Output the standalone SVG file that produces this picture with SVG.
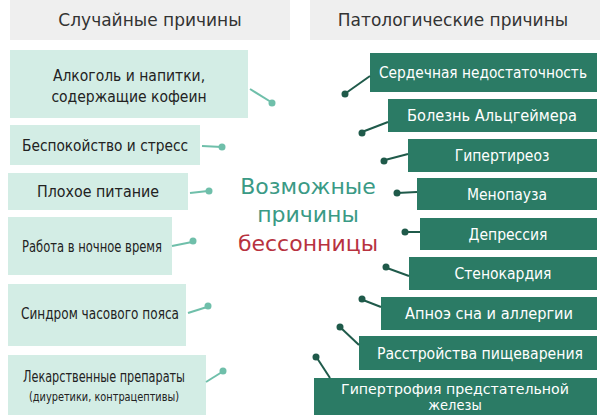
<svg xmlns="http://www.w3.org/2000/svg" width="600" height="415" viewBox="0 0 600 415">
<style>
.hd{fill:#efefef}
.hdt{font-family:"DejaVu Sans",sans-serif;font-size:17px;fill:#333;text-anchor:middle}
.lb{fill:#d3ede5}
.rb{fill:#2b7b65}
.lt{font-family:"DejaVu Sans Condensed","DejaVu Sans",sans-serif;font-stretch:condensed;font-size:15.5px;fill:#222;text-anchor:middle}
.rt{font-family:"DejaVu Sans Condensed","DejaVu Sans",sans-serif;font-stretch:condensed;font-size:15.5px;fill:#fff;text-anchor:middle}
.lc{stroke:#6fbfaa;stroke-width:2;fill:none}
.ld{fill:#6fbfaa}
.rc{stroke:#1f5a4a;stroke-width:2;fill:none}
.rd{fill:#1f5a4a}
.ct{font-family:"DejaVu Sans",sans-serif;font-size:22px;text-anchor:middle}
</style>
<rect width="600" height="415" fill="#fff"/>
<g id="hdr-left"><rect class="hd" x="10" y="0" width="280" height="40"/><text class="hdt" x="150" y="26">Случайные причины</text></g>
<g id="hdr-right"><rect class="hd" x="310" y="0" width="290" height="40"/><text class="hdt" x="453" y="26">Патологические причины</text></g>
<g id="center"><text class="ct" x="308" y="194" fill="#3a9a85">Возможные</text><text class="ct" x="308" y="222" fill="#3a9a85">причины</text><text class="ct" x="308" y="251" fill="#b8323f">бессонницы</text></g>
<g id="l1"><rect class="lb" x="10" y="50" width="238" height="68"/><text class="lt" x="129" y="81">Алкоголь и напитки,</text><text class="lt" x="129" y="102">содержащие кофеин</text></g>
<g id="l2"><rect class="lb" x="10" y="125" width="190" height="40"/><text class="lt" x="105" y="151" textLength="166" lengthAdjust="spacingAndGlyphs">Беспокойство и стресс</text></g>
<g id="l3"><rect class="lb" x="8" y="173" width="180" height="37"/><text class="lt" x="98" y="197" textLength="122" lengthAdjust="spacingAndGlyphs">Плохое питание</text></g>
<g id="l4"><rect class="lb" x="8" y="217" width="164" height="58"/><text class="lt" x="92" y="252" textLength="140" lengthAdjust="spacingAndGlyphs">Работа в ночное время</text></g>
<g id="l5"><rect class="lb" x="8" y="284" width="178" height="62"/><text class="lt" x="100" y="319" textLength="158" lengthAdjust="spacingAndGlyphs">Синдром часового пояса</text></g>
<g id="l6"><rect class="lb" x="8" y="355" width="198" height="60"/><text class="lt" x="104" y="382" textLength="162" lengthAdjust="spacingAndGlyphs">Лекарственные препараты</text><text class="lt" x="104" y="401" style="font-size:13px" textLength="150" lengthAdjust="spacingAndGlyphs">(диуретики, контрацептивы)</text></g>
<g id="r1"><rect class="rb" x="370" y="53" width="227" height="39"/><text class="rt" x="483" y="78" textLength="208" lengthAdjust="spacingAndGlyphs">Сердечная недостаточность</text></g>
<g id="r2"><rect class="rb" x="388" y="99" width="209" height="33"/><text class="rt" x="492" y="121" textLength="170" lengthAdjust="spacingAndGlyphs">Болезнь Альцгеймера</text></g>
<g id="r3"><rect class="rb" x="408" y="139" width="189" height="33"/><text class="rt" x="502" y="161">Гипертиреоз</text></g>
<g id="r4"><rect class="rb" x="417" y="178" width="180" height="32"/><text class="rt" x="507" y="200">Менопауза</text></g>
<g id="r5"><rect class="rb" x="420" y="218" width="177" height="32"/><text class="rt" x="508" y="240">Депрессия</text></g>
<g id="r6"><rect class="rb" x="409" y="257" width="188" height="33"/><text class="rt" x="503" y="279">Стенокардия</text></g>
<g id="r7"><rect class="rb" x="381" y="297" width="216" height="33"/><text class="rt" x="489" y="319" textLength="168" lengthAdjust="spacingAndGlyphs">Апноэ сна и аллергии</text></g>
<g id="r8"><rect class="rb" x="359" y="336" width="238" height="34"/><text class="rt" x="480" y="359" textLength="206" lengthAdjust="spacingAndGlyphs">Расстройства пищеварения</text></g>
<g id="r9"><rect class="rb" x="314" y="378" width="283" height="37"/><text class="rt" x="455" y="394" style="font-size:14.5px" textLength="228" lengthAdjust="spacingAndGlyphs">Гипертрофия предстательной</text><text class="rt" x="455" y="410" style="font-size:14.5px">железы</text></g>
<g id="connectors">
<path class="lc" d="M250 89 L271 102"/><circle class="ld" cx="272" cy="103" r="3.5"/>
<path class="lc" d="M202 146 L222 147"/><circle class="ld" cx="222" cy="147" r="3.5"/>
<path class="lc" d="M190 193 L208 191"/><circle class="ld" cx="209" cy="191" r="3.5"/>
<path class="lc" d="M172 246 L192 242"/><circle class="ld" cx="193" cy="241" r="3.5"/>
<path class="lc" d="M188 313 L207 307"/><circle class="ld" cx="208" cy="306" r="3.5"/>
<path class="lc" d="M206 382 L222 372"/><circle class="ld" cx="223" cy="371" r="3.5"/>
<path class="rc" d="M370 76 L346 93"/><circle class="rd" cx="345" cy="94" r="3.5"/>
<path class="rc" d="M388 122 L362 132"/><circle class="rd" cx="362" cy="133" r="3.5"/>
<path class="rc" d="M408 154 L385 160"/><circle class="rd" cx="384" cy="161" r="3.5"/>
<path class="rc" d="M417 192 L397 193"/><circle class="rd" cx="397" cy="193" r="3.5"/>
<path class="rc" d="M420 232 L405 232"/><circle class="rd" cx="405" cy="232" r="3.5"/>
<path class="rc" d="M409 276 L387 268"/><circle class="rd" cx="386" cy="267" r="3.5"/>
<path class="rc" d="M381 307 L363 300"/><circle class="rd" cx="362" cy="299" r="3.5"/>
<path class="rc" d="M359 345 L341 328"/><circle class="rd" cx="340" cy="327" r="3.5"/>
<path class="rc" d="M330 378 L317 358"/><circle class="rd" cx="316" cy="357" r="3.5"/>
</g>
</svg>
